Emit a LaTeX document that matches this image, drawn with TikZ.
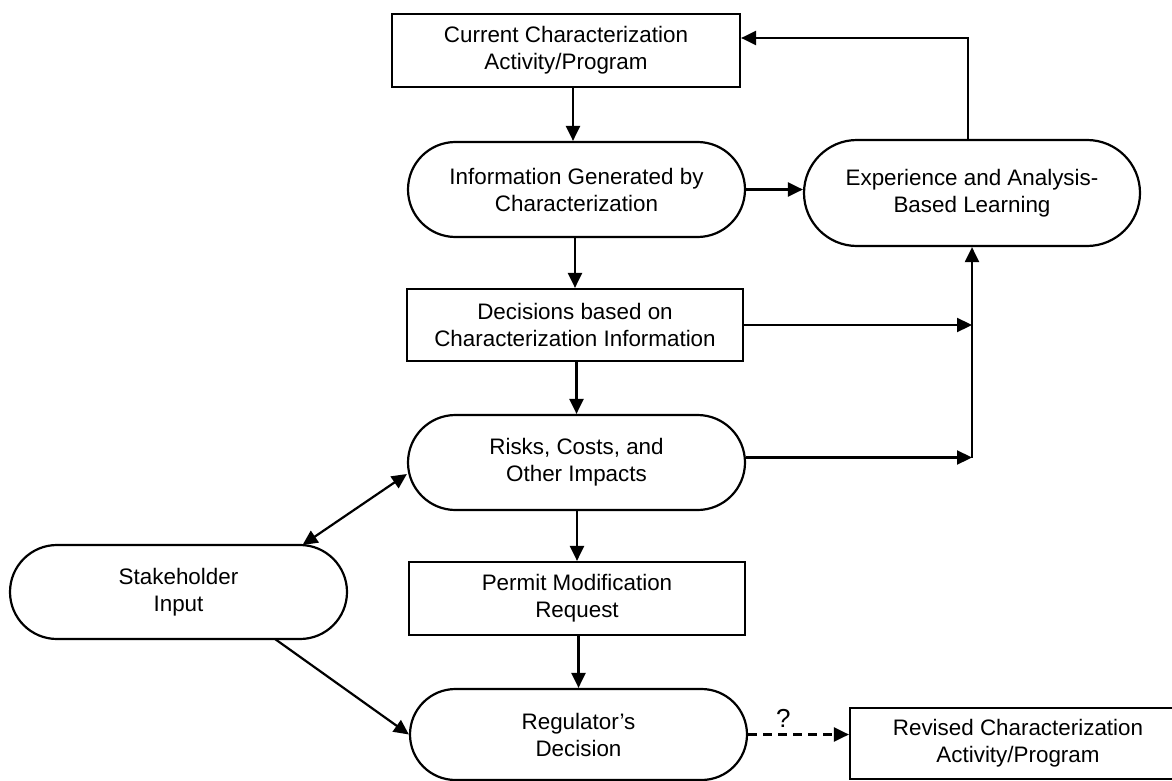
\documentclass[tikz,border=0pt]{standalone}
\usepackage{fontspec}
\setmainfont{Liberation Sans}
\usetikzlibrary{arrows.meta,shapes.misc,calc}
\begin{document}
\begin{tikzpicture}[x=1pt,y=-1pt,
  every node/.style={font=\fontsize{22.4}{27}\selectfont, align=center, line width=2.2pt, inner sep=0pt},
  boxnode/.style={draw, rectangle, minimum width=336pt, minimum height=72pt},
  pill/.style={draw, rounded rectangle, minimum width=337pt, minimum height=95pt},
  arr/.style={line width=2.2pt, -{Triangle[length=15pt,width=14pt]}},
  darr/.style={line width=2.2pt, {Triangle[length=15pt,width=14pt]}-{Triangle[length=15pt,width=14pt]}},
  dasharr/.style={arr, dash pattern=on 9pt off 6pt}
]
\useasboundingbox (0,0) rectangle (1172,781);
\clip (0,0) rectangle (1172,781);

\node[boxnode, minimum width=348pt, minimum height=73pt] (cur) at (566,50.5) {Current Characterization\\Activity/Program};
\node[pill] (info) at (576.5,189.5) {Information Generated by\\Characterization};
\node[pill, minimum width=336pt, minimum height=106pt] (exp) at (972,193) {Experience and Analysis-\\Based Learning};
\node[boxnode] (dec) at (575,325) {Decisions based on\\Characterization Information};
\node[pill] (risk) at (576.5,462.5) {Risks, Costs, and\\Other Impacts};
\node[pill, minimum height=94pt] (stake) at (178.5,592) {Stakeholder\\Input};
\node[boxnode, minimum height=73pt] (permit) at (577,598.5) {Permit Modification\\Request};
\node[pill, minimum height=91pt] (reg) at (578.5,734.5) {Regulator's\\Decision};
\node[boxnode, minimum height=71pt] (rev) at (1018,743.5) {Revised Characterization\\Activity/Program};

\coordinate (c1) at (573,0);
\coordinate (fbtop) at (968,38);

\draw[arr] (cur.south -| c1) -- (info.north -| c1);
\draw[arr] (info.east) -- (info.east -| exp.west);
\draw[arr] (exp.north -| fbtop) -- (fbtop) -- (fbtop -| cur.east);
\draw[arr] (info.south -| dec.north) -- (dec.north);
\draw[arr] (dec.east) -- (dec.east -| exp.south);
\draw[arr] ($(risk.east)+(0,-5)$) coordinate (rk) -- (rk -| exp.south);
\draw[arr] (rk -| exp.south) -- (exp.south);
\draw[arr] (dec.south -| risk.north) -- (risk.north);
\draw[arr] (risk.south -| permit.north) -- (permit.north);
\draw[arr] (permit.south -| reg.north) -- (reg.north);
\draw[darr] ($(stake.center)+(124,-47)$) -- ($(risk.west)+(0,11.5)$);
\draw[arr] ($(stake.center)+(96.5,47)$) -- (reg.west);
\draw[dasharr] (reg.east) -- node[pos=0.35, above=6pt, font=\fontsize{26}{30}\selectfont] {?} (reg.east -| rev.west);
\end{tikzpicture}
\end{document}
